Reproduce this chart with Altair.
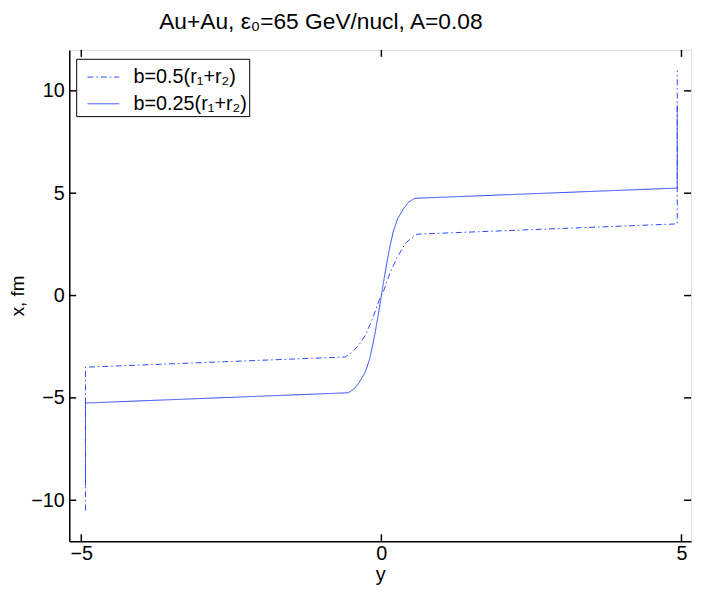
import altair as alt
import pandas as pd

FONT = "Liberation Sans, Arial, Helvetica, sans-serif"
BLUE = "#2a48ff"
PAD = "\u2003\u2003"

series_names = ["b=0.5(r₁+r₂)", "b=0.25(r₁+r₂)"]

# b = 0.5(r1+r2) : dash-dot curve (rapidity y, position x in fm)
b05_rap = [-4.93, -4.93, -0.6, -0.5, -0.37, -0.26, -0.15, -0.04,
           0.04, 0.15, 0.26, 0.4, 0.5, 0.6, 4.93, 4.93]
b05_x = [-10.5, -3.5, -3.0, -2.8, -2.4, -1.9, -1.15, -0.25,
         0.25, 1.15, 1.85, 2.55, 2.8, 3.0, 3.5, 11.0]

# b = 0.25(r1+r2) : solid curve
b025_rap = [-4.93, -4.93, -0.55, -0.45, -0.37, -0.27, -0.2, -0.15, -0.1, -0.05, 0.0,
            0.05, 0.1, 0.15, 0.2, 0.27, 0.37, 0.45, 0.55, 4.93, 4.93]
b025_x = [-9.3, -5.25, -4.75, -4.55, -4.25, -3.75, -3.15, -2.5, -1.75, -0.9, 0.0,
          0.9, 1.75, 2.5, 3.15, 3.75, 4.25, 4.55, 4.75, 5.25, 9.3]

x_ticks = [-5, 0, 5]
y_ticks = [-10, -5, 0, 5, 10]

rows = []
for name, raps, xs in [(series_names[0], b05_rap, b05_x), (series_names[1], b025_rap, b025_x)]:
    for i, (r, v) in enumerate(zip(raps, xs)):
        rows.append({"series": name, "rap": r, "xpos": v, "order": i})
df = pd.DataFrame(rows)

W, H = 629, 497
xscale = alt.Scale(domain=[-5.2, 5.16], nice=False, zero=False)
yscale = alt.Scale(domain=[-12, 12], nice=False, zero=False)

x_axis = alt.Axis(values=x_ticks, title="y", grid=False, tickSize=0, labelPadding=3,
                  titlePadding=1, labelFontSize=20, titleFontSize=20, labelFont=FONT,
                  titleFont=FONT, titleFontWeight="normal", labelColor="black",
                  titleColor="black", domainColor="black", domainWidth=1.5, format="d")
y_axis = alt.Axis(values=y_ticks, title="x, fm", grid=False, tickSize=0, labelPadding=5,
                  titlePadding=3, labelFontSize=20, titleFontSize=19, labelFont=FONT,
                  titleFont=FONT, titleFontWeight="normal", labelColor="black",
                  titleColor="black", domainColor="black", domainWidth=1.5, format="d")

lines = alt.Chart(df).mark_line(color=BLUE, strokeWidth=1, clip=True).encode(
    x=alt.X("rap:Q", scale=xscale, axis=x_axis),
    y=alt.Y("xpos:Q", scale=yscale, axis=y_axis),
    strokeDash=alt.StrokeDash(
        "series:N",
        scale=alt.Scale(domain=series_names, range=[[6, 3, 1.5, 3], [1, 0]]),
        legend=alt.Legend(
            title=None, orient="none", legendX=7, legendY=9,
            strokeColor="black", fillColor="white", padding=2,
            symbolType="stroke", symbolStrokeColor=BLUE, symbolStrokeWidth=1,
            symbolSize=1024, symbolOffset=9, labelOffset=14, rowPadding=0,
            labelFontSize=20, labelFont=FONT, labelColor="black", labelLimit=0,
            labelExpr="datum.label + '" + PAD + "'",
        ),
    ),
    order="order:Q",
)

xt_df = pd.DataFrame({"t": x_ticks})
yt_df = pd.DataFrame({"t": y_ticks})

tick_bottom = alt.Chart(xt_df).mark_rule(color="black", strokeWidth=1.5).encode(
    x=alt.X("t:Q", scale=xscale, title="y"), y=alt.value(H), y2=alt.value(H - 7))
tick_top = alt.Chart(xt_df).mark_rule(color="black", strokeWidth=1.5).encode(
    x=alt.X("t:Q", scale=xscale, title="y"), y=alt.value(0), y2=alt.value(7))
tick_left = alt.Chart(yt_df).mark_rule(color="black", strokeWidth=1.5).encode(
    y=alt.Y("t:Q", scale=yscale, title="x, fm"), x=alt.value(0), x2=alt.value(7))
tick_right = alt.Chart(yt_df).mark_rule(color="black", strokeWidth=1.5).encode(
    y=alt.Y("t:Q", scale=yscale, title="x, fm"), x=alt.value(W), x2=alt.value(W - 7))

chart = alt.layer(lines, tick_bottom, tick_top, tick_left, tick_right).properties(
    width=W, height=H,
    title=alt.TitleParams("Au+Au, ε₀=65 GeV/nucl, A=0.08", fontSize=23, fontWeight="normal",
                          font=FONT, color="black", anchor="middle", frame="group",
                          dx=-60, offset=15),
    padding={"left": 62, "top": 39, "right": 6, "bottom": 47},
    autosize=alt.AutoSizeParams(type="none"),
).configure_view(stroke="black", strokeWidth=1.5).configure(background="white")

chart.save("out.html", embed_options={"renderer": "svg", "actions": False})
